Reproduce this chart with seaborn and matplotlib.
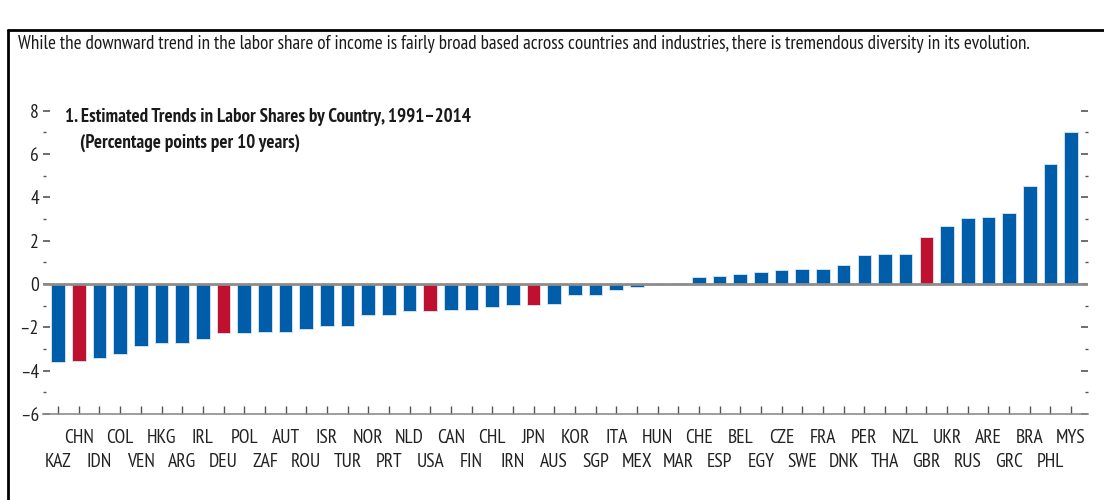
import pandas as pd
import matplotlib
matplotlib.use("Agg")
import matplotlib.pyplot as plt
from matplotlib.lines import Line2D
import seaborn as sns

# Estimated trends in labor shares, percentage points per 10 years, 1991-2014
countries = [
    "KAZ", "CHN", "IDN", "COL", "VEN", "HKG", "ARG", "IRL", "DEU", "POL",
    "ZAF", "AUT", "ROU", "ISR", "TUR", "NOR", "PRT", "NLD", "USA", "CAN",
    "FIN", "CHL", "IRN", "JPN", "AUS", "KOR", "SGP", "ITA", "MEX", "HUN",
    "MAR", "CHE", "ESP", "BEL", "EGY", "CZE", "SWE", "FRA", "DNK", "PER",
    "THA", "NZL", "GBR", "UKR", "RUS", "ARE", "GRC", "BRA", "PHL", "MYS",
]
trend = [
    -3.62, -3.56, -3.43, -3.24, -2.85, -2.73, -2.73, -2.53, -2.27, -2.27,
    -2.21, -2.21, -2.09, -1.95, -1.95, -1.45, -1.45, -1.24, -1.25, -1.18,
    -1.18, -1.05, -0.99, -0.99, -0.93, -0.49, -0.49, -0.27, -0.15, -0.05,
    0.03, 0.31, 0.38, 0.44, 0.57, 0.63, 0.71, 0.71, 0.90, 1.35,
    1.40, 1.40, 2.18, 2.70, 3.03, 3.10, 3.29, 4.53, 5.55, 7.03,
]
highlighted = ["CHN", "DEU", "USA", "JPN", "GBR"]
yticks = [-6, -4, -2, 0, 2, 4, 6, 8]
yminor = [-5, -3, -1, 1, 3, 5, 7]

blue = "#005DAA"
red = "#C0102F"

df = pd.DataFrame({"country": countries, "trend": trend})
df["group"] = ["hl" if c in highlighted else "other" for c in df["country"]]

sns.set_style("white")
plt.rcParams["font.family"] = ["PT Sans Narrow", "Roboto Condensed", "DejaVu Sans"]

fig = plt.figure(figsize=(11.04, 5.0), dpi=100)
ax = fig.add_axes([0.039, 0.172, 0.9465, 0.6066])

sns.barplot(data=df, x="country", y="trend", hue="group", order=countries,
            palette={"hl": red, "other": blue}, dodge=False, legend=False,
            saturation=1, width=0.66, edgecolor="#dbe8f5", linewidth=0.6, ax=ax)

ax.set_xlim(-0.73, len(countries) - 1 + 0.82)
ax.set_ylim(-6, 8)
ax.axhline(0, color="#8c8c8c", lw=2, zorder=3)

for s in ["top", "left", "right"]:
    ax.spines[s].set_visible(False)
ax.spines["bottom"].set_color("#8c8c8c")
ax.spines["bottom"].set_linewidth(1.2)

ax.set_yticks(yticks)
ax.set_yticklabels([str(v).replace("-", "\u2013") for v in yticks])
ax.set_yticks(yminor, minor=True)
ax.tick_params(axis="y", which="major", direction="in", length=5, width=1.2,
               color="#555555", left=True, right=True, labelsize=14,
               labelcolor="#222222", pad=3)
ax.tick_params(axis="y", which="minor", direction="in", length=2, width=1,
               color="#555555", left=True, right=True)

# two staggered rows of country labels
idx = list(range(len(countries)))
ax.set_xticks(idx[1::2])
ax.set_xticklabels(countries[1::2])
ax.set_xticks(idx[0::2], labels=countries[0::2], minor=True)
ax.tick_params(axis="x", which="both", direction="in", length=6, width=1,
               color="#555555", labelsize=14, labelcolor="#222222",
               bottom=True)
ax.tick_params(axis="x", which="major", pad=11)
ax.tick_params(axis="x", which="minor", pad=28)
ax.set_xlabel("")
ax.set_ylabel("")

ax.text(0.021, 1.008, "1. Estimated Trends in Labor Shares by Country, 1991\u20132014",
        transform=ax.transAxes, fontsize=13.7, fontweight="bold", va="top",
        color="#1a1a1a")
ax.text(0.035, 0.925, "(Percentage points per 10 years)",
        transform=ax.transAxes, fontsize=13.7, fontweight="bold", va="top",
        color="#1a1a1a")

fig.text(18 / 1104, 1 - 44 / 500,
         "While the downward trend in the labor share of income is fairly broad based "
         "across countries and industries, there is tremendous diversity in its evolution.",
         fontsize=13.8, va="center", color="#1a1a1a")

# frame around the panel
fig.add_artist(Line2D([8 / 1104, 8 / 1104], [0, 1 - 30 / 500], color="black", lw=2))
fig.add_artist(Line2D([8 / 1104, 1], [1 - 30 / 500, 1 - 30 / 500], color="black", lw=2))

fig.savefig("out.png", dpi=100)
